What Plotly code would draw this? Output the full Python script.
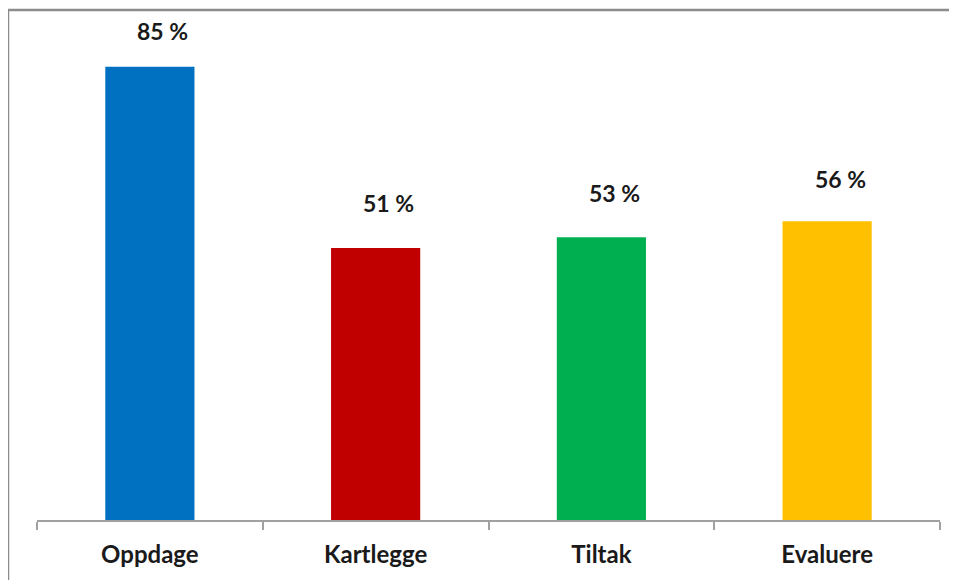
import plotly.graph_objects as go

categories = ["Oppdage", "Kartlegge", "Tiltak", "Evaluere"]
values = [85, 51, 53, 56]
labels = ["85 %", "51 %", "53 %", "56 %"]
colors = ["#0070C0", "#C00000", "#00B050", "#FFC000"]

# label placement (pixels above bar top), as in the original manual layout
label_yshift = [36, 45, 44, 42]

W, H = 957, 580
OFF = 8  # page body offset
ml, mt = 37 - OFF, 40 - OFF
pw, ph = 903, 480
mr, mb = W - ml - pw, H - mt - ph

fig = go.Figure(go.Bar(
    x=categories, y=values, marker=dict(color=colors, line=dict(width=0)),
    width=0.395, hoverinfo="skip",
))

for c, v, t, ys in zip(categories, values, labels, label_yshift):
    fig.add_annotation(x=c, y=v, text="<b>" + t + "</b>", showarrow=False,
                       yshift=ys, xshift=13,
                       font=dict(family="Lato, Open Sans, sans-serif", size=23, color="#1a1a1a"),
                       xref="x", yref="y")

fig.add_shape(type="rect", xref="paper", yref="paper",
              x0=(8 - 37) / pw, x1=1.2, y0=-0.3, y1=(520 - 10) / ph,
              line=dict(color="#8c8c8c", width=2.5), fillcolor="rgba(0,0,0,0)", layer="above")

fig.update_layout(
    width=W, height=H,
    margin=dict(l=ml, r=mr, t=mt, b=mb, autoexpand=False),
    paper_bgcolor="white", plot_bgcolor="white",
    showlegend=False,
    xaxis=dict(
        showline=True, linecolor="#a0a0a0", linewidth=1.5,
        ticks="outside", tickson="boundaries", ticklen=8, tickcolor="#a0a0a0", tickwidth=1.5,
        tickfont=dict(family="Lato, Open Sans, sans-serif", size=24, color="#1a1a1a"),
        tickprefix="<b>", ticksuffix="</b>",
        ticklabelstandoff=12,
        showgrid=False, fixedrange=True,
    ),
    yaxis=dict(range=[0, 90], visible=False, showgrid=False, fixedrange=True),
)

fig.write_html("out.html")
